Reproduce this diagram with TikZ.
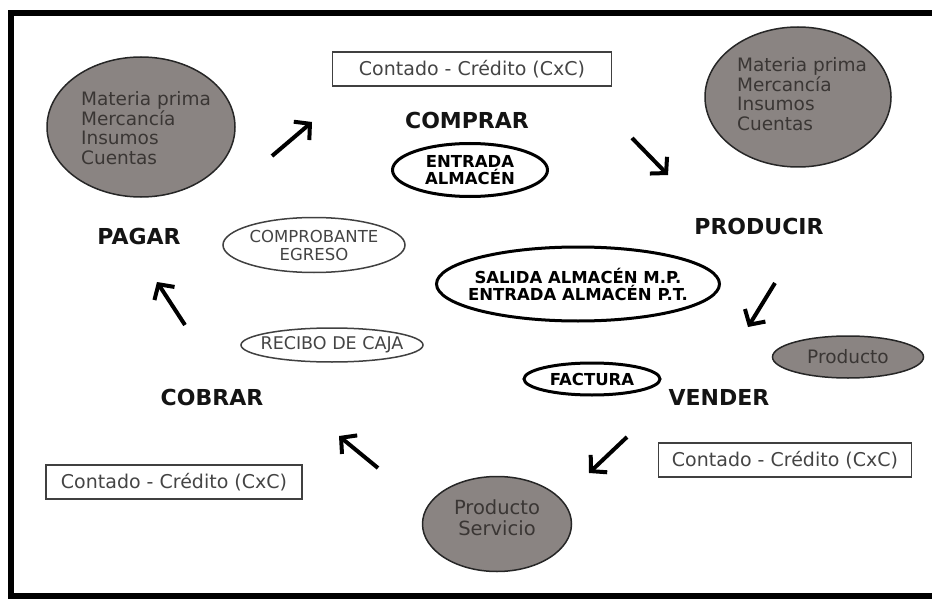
\documentclass[tikz,border=0pt]{standalone}
\usepackage{fontspec}
\setmainfont{DejaVu Sans}
\usetikzlibrary{shapes.geometric,arrows.meta}
\definecolor{ovalgray}{HTML}{8A8482}
\definecolor{txtgray}{HTML}{3A3634}
\definecolor{boxtxt}{HTML}{444444}
\begin{document}
\begin{tikzpicture}[x=1pt,y=-1pt,
  verb/.style={font=\fontsize{22}{24}\selectfont\bfseries, text=black!92, inner sep=0pt},
  cbox/.style={draw=black!75, line width=1.5pt, font=\fontsize{19}{22}\selectfont, text=boxtxt, inner sep=0pt, minimum height=34pt},
  grayoval/.style={ellipse, draw=black!85, line width=1.5pt, fill=ovalgray, inner sep=0pt},
  thickoval/.style={ellipse, draw=black, line width=3pt, inner sep=0pt},
  thinoval/.style={ellipse, draw=black!75, line width=1.5pt, inner sep=0pt},
  graytext/.style={font=\fontsize{18.5}{19.5}\selectfont, text=txtgray, align=left, inner sep=0pt},
  boldsmall/.style={font=\fontsize{16.5}{17}\selectfont\bfseries, text=black, align=center, inner sep=0pt},
  regsmall/.style={font=\fontsize{16.5}{18}\selectfont, text=boxtxt, align=center, inner sep=0pt},
  bigarrow/.style={line width=4pt, black, -{Straight Barb[length=11pt,width=24pt]}}
]
\useasboundingbox (0,0) rectangle (932,599);
% frame
\draw[line width=6pt] (935,13) -- (11,13) -- (11,596) -- (935,596);

% gray ovals
\node[grayoval, minimum width=188pt, minimum height=140pt] (tlo) at (141,127) {};
\node[graytext] (tlt) at (146,128) {Materia prima\\Mercancía\\Insumos\\Cuentas};
\node[grayoval, minimum width=186pt, minimum height=140pt] (tro) at (798,97) {};
\node[graytext] (trt) at (802,94) {Materia prima\\Mercancía\\Insumos\\Cuentas};
\node[grayoval, minimum width=151pt, minimum height=42pt] (prodo) at (848,357) {};
\node[graytext] (prodt) at (prodo) {Producto};
\node[grayoval, minimum width=149pt, minimum height=95pt] (pso) at (497,524) {};
\node[graytext, align=center, font=\fontsize{19.5}{21}\selectfont] (pst) at (497,518) {Producto\\Servicio};

% boxes
\node[cbox, minimum width=279pt] (topbox) at (472,69) {Contado - Crédito (CxC)};
\node[cbox, minimum width=256pt] (blbox) at (174,482) {Contado - Crédito (CxC)};
\node[cbox, minimum width=253pt] (brbox) at (785,460) {Contado - Crédito (CxC)};

% verbs
\node[verb] (comprar) at (467,120) {COMPRAR};
\node[verb] (producir) at (759,226) {PRODUCIR};
\node[verb] (pagar) at (139,236) {PAGAR};
\node[verb] (cobrar) at (212,397) {COBRAR};
\node[verb] (vender) at (719,397) {VENDER};

% document ovals
\node[thickoval, minimum width=155pt, minimum height=53pt] (entrada) at (470,170) {};
\node[boldsmall] (entradat) at (entrada) {ENTRADA\\ALMACÉN};
\node[thinoval, minimum width=182pt, minimum height=55pt] (compro) at (314,245) {};
\node[regsmall] (comprot) at (compro) {COMPROBANTE\\EGRESO};
\node[thickoval, minimum width=283pt, minimum height=74pt] (salida) at (578,284) {};
\node[boldsmall] (salidat) at (salida) {SALIDA ALMACÉN M.P.\\ENTRADA ALMACÉN P.T.};
\node[thinoval, minimum width=182pt, minimum height=34pt] (recibo) at (332,345) {};
\node[regsmall, font=\fontsize{17.5}{18}\selectfont] (recibot) at (recibo) {RECIBO DE CAJA};
\node[thickoval, minimum width=136pt, minimum height=32pt] (factura) at (592,379) {};
\node[boldsmall] (facturat) at (factura) {FACTURA};

% arrows
\coordinate (a1s) at (272,156); \coordinate (a1e) at (312,122);
\coordinate (a2s) at (632,138); \coordinate (a2e) at (668,175);
\coordinate (a3s) at (775,283); \coordinate (a3e) at (748,327);
\coordinate (a4s) at (627,437); \coordinate (a4e) at (589,473);
\coordinate (a5s) at (378,468); \coordinate (a5e) at (339,436);
\coordinate (a6s) at (185,325); \coordinate (a6e) at (157,282);
\draw[bigarrow] (a1s) -- (a1e);
\draw[bigarrow] (a2s) -- (a2e);
\draw[bigarrow] (a3s) -- (a3e);
\draw[bigarrow] (a4s) -- (a4e);
\draw[bigarrow] (a5s) -- (a5e);
\draw[bigarrow] (a6s) -- (a6e);
\end{tikzpicture}
\end{document}
